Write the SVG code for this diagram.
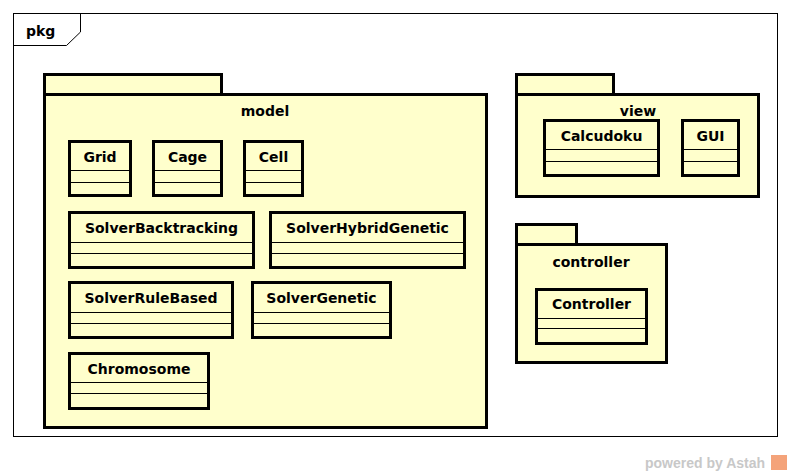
<svg xmlns="http://www.w3.org/2000/svg" width="792" height="476" viewBox="0 0 792 476">
<style>
.pk{fill:#FFFFCC;stroke:#000;stroke-width:3}
.cl{fill:#FFFFCC;stroke:#000;stroke-width:3}
.sep{stroke:#000;stroke-width:1.2}
.t{font-family:"DejaVu Sans",sans-serif;font-weight:bold;font-size:14px;fill:#000}
.wm{font-family:"Liberation Sans",Arial,sans-serif;font-weight:bold;font-size:14px;fill:#c8c8c8}
</style>
<rect x="0" y="0" width="792" height="476" fill="#fff"/>
<g id="frame">
<rect x="13.5" y="13.5" width="764" height="423" fill="#fff" stroke="#000" stroke-width="1"/>
<path d="M13.5 45.5 H66.5 L80.5 32 V13.5" fill="none" stroke="#000" stroke-width="1"/>
<text class="t" x="26" y="36" font-size="14">pkg</text>
</g>
<g id="pkg-model">
<rect class="pk" x="44.5" y="74.5" width="177" height="20"/>
<rect class="pk" x="44.5" y="94.5" width="442" height="333"/>
<text class="t" x="265" y="116" text-anchor="middle">model</text>
</g>
<g id="pkg-view">
<rect class="pk" x="516.5" y="74.5" width="97" height="20"/>
<rect class="pk" x="516.5" y="94.5" width="242" height="102"/>
<text class="t" x="638" y="116" text-anchor="middle">view</text>
</g>
<g id="pkg-controller">
<rect class="pk" x="516.5" y="224.5" width="60" height="20"/>
<rect class="pk" x="516.5" y="244.5" width="150" height="118"/>
<text class="t" x="591" y="267" text-anchor="middle">controller</text>
</g>
<g id="Grid">
<rect class="cl" x="69.5" y="141.5" width="61" height="54"/>
<line class="sep" x1="69.5" y1="170.5" x2="130.5" y2="170.5"/><line class="sep" x1="69.5" y1="182.5" x2="130.5" y2="182.5"/>
<text class="t" x="100" y="162" text-anchor="middle">Grid</text>
</g>
<g id="Cage">
<rect class="cl" x="153.5" y="141.5" width="68" height="54"/>
<line class="sep" x1="153.5" y1="170.5" x2="221.5" y2="170.5"/><line class="sep" x1="153.5" y1="182.5" x2="221.5" y2="182.5"/>
<text class="t" x="187.5" y="162" text-anchor="middle">Cage</text>
</g>
<g id="Cell">
<rect class="cl" x="244.5" y="141.5" width="58" height="54"/>
<line class="sep" x1="244.5" y1="170.5" x2="302.5" y2="170.5"/><line class="sep" x1="244.5" y1="182.5" x2="302.5" y2="182.5"/>
<text class="t" x="273.5" y="162" text-anchor="middle">Cell</text>
</g>
<g id="SolverBacktracking">
<rect class="cl" x="69.5" y="212.5" width="184" height="55"/>
<line class="sep" x1="69.5" y1="242.5" x2="253.5" y2="242.5"/><line class="sep" x1="69.5" y1="253.5" x2="253.5" y2="253.5"/>
<text class="t" x="161.5" y="233" text-anchor="middle">SolverBacktracking</text>
</g>
<g id="SolverHybridGenetic">
<rect class="cl" x="270.5" y="212.5" width="194" height="55"/>
<line class="sep" x1="270.5" y1="242.5" x2="464.5" y2="242.5"/><line class="sep" x1="270.5" y1="253.5" x2="464.5" y2="253.5"/>
<text class="t" x="367.5" y="233" text-anchor="middle">SolverHybridGenetic</text>
</g>
<g id="SolverRuleBased">
<rect class="cl" x="69.5" y="282.5" width="163" height="55"/>
<line class="sep" x1="69.5" y1="312.5" x2="232.5" y2="312.5"/><line class="sep" x1="69.5" y1="323.5" x2="232.5" y2="323.5"/>
<text class="t" x="151" y="303" text-anchor="middle">SolverRuleBased</text>
</g>
<g id="SolverGenetic">
<rect class="cl" x="252.5" y="282.5" width="138" height="55"/>
<line class="sep" x1="252.5" y1="312.5" x2="390.5" y2="312.5"/><line class="sep" x1="252.5" y1="323.5" x2="390.5" y2="323.5"/>
<text class="t" x="321.5" y="303" text-anchor="middle">SolverGenetic</text>
</g>
<g id="Chromosome">
<rect class="cl" x="69.5" y="353.5" width="139" height="55"/>
<line class="sep" x1="69.5" y1="382.5" x2="208.5" y2="382.5"/><line class="sep" x1="69.5" y1="393.5" x2="208.5" y2="393.5"/>
<text class="t" x="139" y="374" text-anchor="middle">Chromosome</text>
</g>
<g id="Calcudoku">
<rect class="cl" x="544.5" y="120.5" width="114" height="55"/>
<line class="sep" x1="544.5" y1="149.5" x2="658.5" y2="149.5"/><line class="sep" x1="544.5" y1="161.5" x2="658.5" y2="161.5"/>
<text class="t" x="601.5" y="141" text-anchor="middle">Calcudoku</text>
</g>
<g id="GUI">
<rect class="cl" x="682.5" y="120.5" width="56" height="55"/>
<line class="sep" x1="682.5" y1="149.5" x2="738.5" y2="149.5"/><line class="sep" x1="682.5" y1="161.5" x2="738.5" y2="161.5"/>
<text class="t" x="710.5" y="141" text-anchor="middle">GUI</text>
</g>
<g id="Controller">
<rect class="cl" x="536.5" y="289.5" width="110" height="54"/>
<line class="sep" x1="536.5" y1="318.5" x2="646.5" y2="318.5"/><line class="sep" x1="536.5" y1="328.5" x2="646.5" y2="328.5"/>
<text class="t" x="591.5" y="309" text-anchor="middle">Controller</text>
</g>
<g id="connectors"></g>
<g id="watermark">
<text class="wm" x="645" y="468">powered by Astah</text>
<rect x="771" y="455" width="16" height="15" fill="#f4a37a"/>
</g>
</svg>
